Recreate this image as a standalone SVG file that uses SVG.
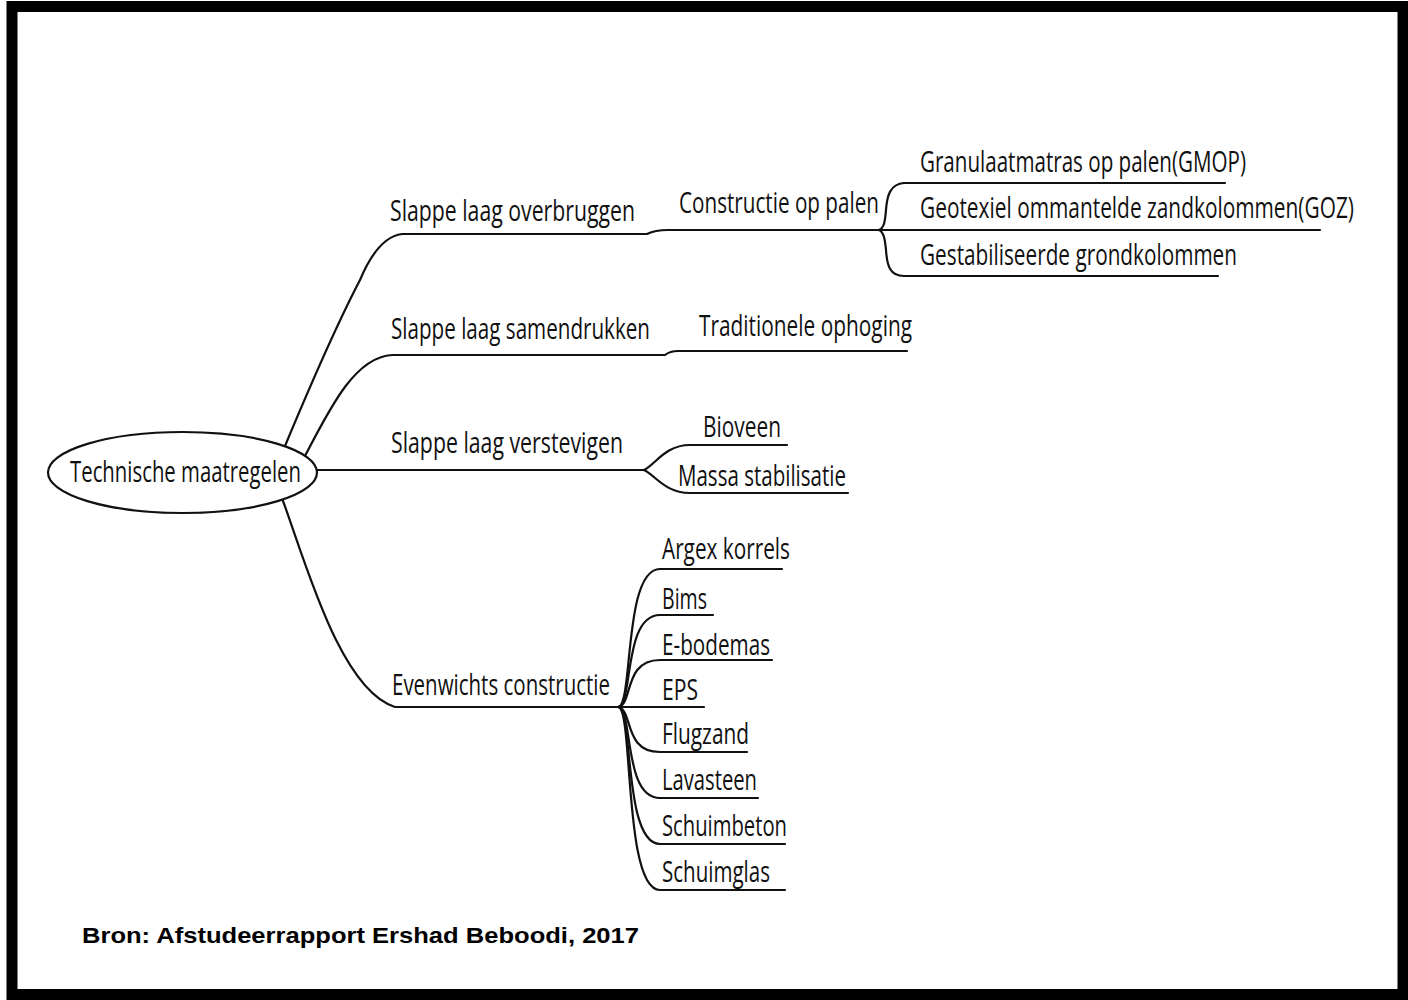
<svg xmlns="http://www.w3.org/2000/svg" width="1408" height="1000" viewBox="0 0 1408 1000">
<style>
.t{font-family:"Open Sans","DejaVu Sans",sans-serif;font-size:23px;fill:#111;}
.c{fill:none;stroke:#111;stroke-width:2.2;stroke-linecap:round;stroke-linejoin:round;}
.src{font-family:"Liberation Sans",Arial,sans-serif;font-size:22px;font-weight:bold;fill:#000;}
</style>
<rect x="0" y="0" width="1408" height="1000" fill="#fff"/>
<rect x="12" y="6.5" width="1391" height="988" fill="none" stroke="#000" stroke-width="11"/>
<g id="connectors">
<path class="c" d="M285 446 C305 398 338 322 360 280 Q378 237 402 234 L647 234 Q655 230 668 230 L1320 230"/>
<path class="c" d="M904 183 C890 184 887 196 886 210 C885 222 884 228 879 230"/>
<path class="c" d="M879 230 C884 232 885 240 886 250 C887 266 890 276 904 276 L1218 276"/>
<path class="c" d="M904 183 L1225 183"/>
<path class="c" d="M305 456 C330 408 355 357 392 355 L665 355 Q670 351 678 351 L907 351"/>
<path class="c" d="M316 470 L644 470"/>
<path class="c" d="M644 470 C655 465 665 445 690 445 L787 445"/>
<path class="c" d="M644 470 C655 475 665 493 690 493 L848 493"/>
<path class="c" d="M283 501 C305 560 340 690 395 707 L704 707"/>
<path class="c" d="M619 707 C633 700 624 569 660 569 L782 569"/>
<path class="c" d="M619 707 C633 700 624 615 660 615 L713 615"/>
<path class="c" d="M619 707 C633 702 624 660 660 660 L772 660"/>
<path class="c" d="M619 707 C633 712 624 752 660 752 L747 752"/>
<path class="c" d="M619 707 C633 714 624 798 660 798 L758 798"/>
<path class="c" d="M619 707 C633 714 624 844 660 844 L785 844"/>
<path class="c" d="M619 707 C633 714 624 890 660 890 L785 890"/>
</g>
<g id="root">
<ellipse cx="182.5" cy="472.5" rx="134.5" ry="40.5" fill="#fff" stroke="#111" stroke-width="2.2"/>
<text class="t" transform="translate(70 482) scale(1 1.3)" textLength="231" lengthAdjust="spacingAndGlyphs">Technische maatregelen</text>
</g>
<g id="n-overbruggen"><text class="t" transform="translate(390 221) scale(1 1.3)" textLength="245" lengthAdjust="spacingAndGlyphs">Slappe laag overbruggen</text></g>
<g id="n-constructie-palen"><text class="t" transform="translate(679 213) scale(1 1.3)" textLength="200" lengthAdjust="spacingAndGlyphs">Constructie op palen</text></g>
<g id="n-gmop"><text class="t" transform="translate(920 172) scale(1 1.3)" textLength="326" lengthAdjust="spacingAndGlyphs">Granulaatmatras op palen(GMOP)</text></g>
<g id="n-goz"><text class="t" transform="translate(920 218) scale(1 1.3)" textLength="434" lengthAdjust="spacingAndGlyphs">Geotexiel ommantelde zandkolommen(GOZ)</text></g>
<g id="n-gestab"><text class="t" transform="translate(920 265) scale(1 1.3)" textLength="317" lengthAdjust="spacingAndGlyphs">Gestabiliseerde grondkolommen</text></g>
<g id="n-samendrukken"><text class="t" transform="translate(391 339) scale(1 1.3)" textLength="259" lengthAdjust="spacingAndGlyphs">Slappe laag samendrukken</text></g>
<g id="n-traditionele"><text class="t" transform="translate(699 336) scale(1 1.3)" textLength="213" lengthAdjust="spacingAndGlyphs">Traditionele ophoging</text></g>
<g id="n-verstevigen"><text class="t" transform="translate(391 453) scale(1 1.3)" textLength="232" lengthAdjust="spacingAndGlyphs">Slappe laag verstevigen</text></g>
<g id="n-bioveen"><text class="t" transform="translate(703 437) scale(1 1.3)" textLength="78" lengthAdjust="spacingAndGlyphs">Bioveen</text></g>
<g id="n-massa"><text class="t" transform="translate(678 486) scale(1 1.3)" textLength="168" lengthAdjust="spacingAndGlyphs">Massa stabilisatie</text></g>
<g id="n-evenwichts"><text class="t" transform="translate(392 695) scale(1 1.3)" textLength="218" lengthAdjust="spacingAndGlyphs">Evenwichts constructie</text></g>
<g id="n-argex"><text class="t" transform="translate(662 559) scale(1 1.3)" textLength="128" lengthAdjust="spacingAndGlyphs">Argex korrels</text></g>
<g id="n-bims"><text class="t" transform="translate(662 609) scale(1 1.3)" textLength="45" lengthAdjust="spacingAndGlyphs">Bims</text></g>
<g id="n-ebodemas"><text class="t" transform="translate(662 655) scale(1 1.3)" textLength="108" lengthAdjust="spacingAndGlyphs">E-bodemas</text></g>
<g id="n-eps"><text class="t" transform="translate(662 700) scale(1 1.3)" textLength="36" lengthAdjust="spacingAndGlyphs">EPS</text></g>
<g id="n-flugzand"><text class="t" transform="translate(662 744) scale(1 1.3)" textLength="87" lengthAdjust="spacingAndGlyphs">Flugzand</text></g>
<g id="n-lavasteen"><text class="t" transform="translate(662 790) scale(1 1.3)" textLength="95" lengthAdjust="spacingAndGlyphs">Lavasteen</text></g>
<g id="n-schuimbeton"><text class="t" transform="translate(662 836) scale(1 1.3)" textLength="125" lengthAdjust="spacingAndGlyphs">Schuimbeton</text></g>
<g id="n-schuimglas"><text class="t" transform="translate(662 882) scale(1 1.3)" textLength="108" lengthAdjust="spacingAndGlyphs">Schuimglas</text></g>
<text class="src" x="82" y="943" textLength="557" lengthAdjust="spacingAndGlyphs">Bron: Afstudeerrapport Ershad Beboodi, 2017</text>
</svg>
